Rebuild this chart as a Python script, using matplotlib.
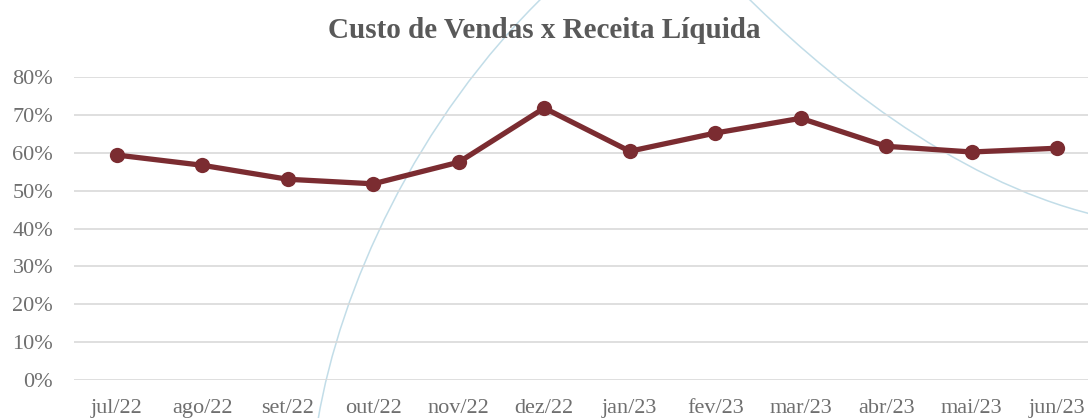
import matplotlib
matplotlib.use("Agg")
import matplotlib.pyplot as plt
from matplotlib.path import Path
from matplotlib.patches import PathPatch
from matplotlib.ticker import FuncFormatter, MultipleLocator

# ---- data ----
months = ["jul/22", "ago/22", "set/22", "out/22", "nov/22", "dez/22",
          "jan/23", "fev/23", "mar/23", "abr/23", "mai/23", "jun/23"]
ratio = [0.594, 0.567, 0.530, 0.518, 0.575, 0.718,
         0.604, 0.652, 0.691, 0.617, 0.602, 0.612]
title = "Custo de Vendas x Receita Líquida"

W, H = 1088, 418
fig = plt.figure(figsize=(W / 100, H / 100), dpi=100)
fig.patch.set_facecolor("white")

serif = ["Liberation Serif", "DejaVu Serif"]
title_gray = "#595959"
tick_gray = "#6f6f6f"
red = "#7b2c31"

# decorative light-blue background arcs (slide decoration, figure pixels)
def px(x, y):
    return (x / W, 1 - y / H)

left_arc = Path([px(318, 420), px(340, 290), px(415, 120), px(548, -8)],
                [Path.MOVETO, Path.CURVE4, Path.CURVE4, Path.CURVE4])
right_arc = Path([px(742, -8), px(820, 70), px(950, 180), px(1095, 215)],
                 [Path.MOVETO, Path.CURVE4, Path.CURVE4, Path.CURVE4])
for p in (left_arc, right_arc):
    fig.patches.append(PathPatch(p, transform=fig.transFigure, fill=False,
                                 edgecolor="#c2dde8", linewidth=1.1, zorder=0))

ax = fig.add_axes([74 / W, 1 - 380 / H, 1026 / W, 303 / H])
ax.set_facecolor("none")
ax.set_zorder(1)

x = list(range(len(months)))
ax.plot(x, ratio, color=red, linewidth=3.8, marker="o", markersize=11,
        markeredgewidth=0, solid_capstyle="round", zorder=3, clip_on=False)

ax.set_xlim(-0.5, len(months) - 0.5)
ax.set_ylim(0, 0.8)
ax.yaxis.set_major_locator(MultipleLocator(0.1))
ax.yaxis.set_major_formatter(FuncFormatter(lambda v, _: f"{v*100:.0f}%"))
ax.set_xticks(x)
ax.set_xticklabels(months)

ax.grid(axis="y", color="#d9d9d9", linewidth=1.2, zorder=0)
ax.set_axisbelow(True)
for s in ax.spines.values():
    s.set_visible(False)
ax.tick_params(axis="both", length=0, colors=tick_gray, labelsize=16)
ax.tick_params(axis="y", pad=15)
ax.tick_params(axis="x", pad=14)
for lab in ax.get_xticklabels() + ax.get_yticklabels():
    lab.set_fontfamily(serif)
    lab.set_color(tick_gray)

fig.text(544 / W, 1 - 30 / H, title, ha="center", va="center",
         fontsize=21, fontweight="bold", color=title_gray, family=serif)

fig.savefig("out.png", dpi=100, facecolor="white")
